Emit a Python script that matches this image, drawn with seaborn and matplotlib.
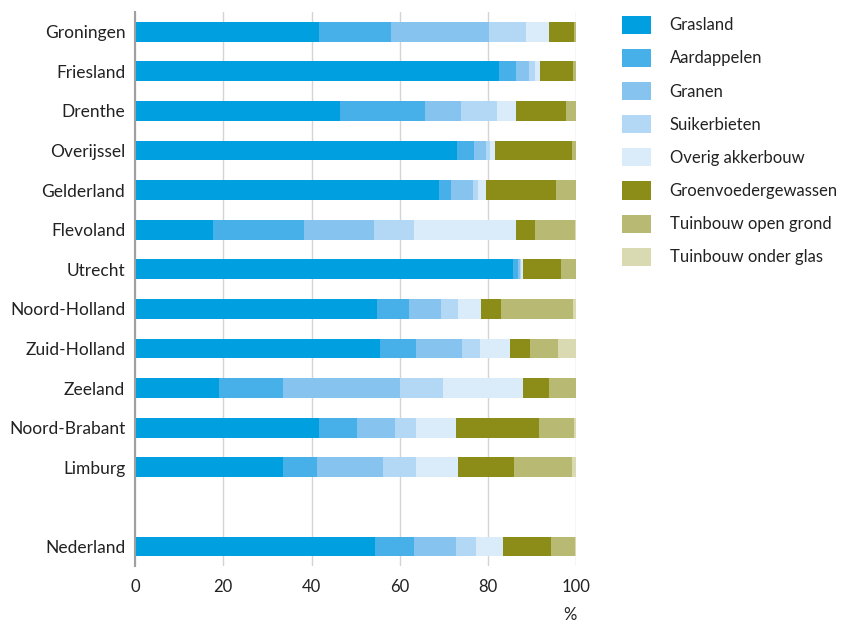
import matplotlib
matplotlib.use("Agg")
import matplotlib.pyplot as plt
from matplotlib.patches import Patch
import seaborn as sns
import pandas as pd

sns.set_style("white")
plt.rcParams['font.family'] = ['Lato', 'DejaVu Sans']

# regions, blank slot before the national total
regions = ["Groningen", "Friesland", "Drenthe", "Overijssel", "Gelderland",
           "Flevoland", "Utrecht", "Noord-Holland", "Zuid-Holland", "Zeeland",
           "Noord-Brabant", "Limburg", "Nederland"]
order = regions[:-1] + [" "] + regions[-1:]

crops = ["Grasland", "Aardappelen", "Granen", "Suikerbieten", "Overig akkerbouw",
         "Groenvoedergewassen", "Tuinbouw open grond", "Tuinbouw onder glas"]

# share of area per crop (%)
grasland   = [41.6, 82.4, 46.5, 72.9, 68.9, 17.6, 85.7, 54.8, 55.5, 19.1, 41.7, 33.6, 54.4]
aardappel  = [16.5,  4.0, 19.3,  3.9,  2.7, 20.6,  1.1,  7.3,  8.1, 14.5,  8.5,  7.6,  8.8]
granen     = [22.1,  2.9,  8.0,  2.7,  5.0, 15.9,  0.5,  7.2, 10.4, 26.4,  8.8, 14.9,  9.5]
suikerbiet = [ 8.3,  1.3,  8.3,  0.9,  1.2,  9.2,  0.2,  3.8,  4.1,  9.8,  4.6,  7.5,  4.5]
overig     = [ 5.3,  1.1,  4.2,  1.1,  1.7, 22.9,  0.3,  5.3,  6.8, 18.0,  9.1,  9.6,  6.1]
groenvoer  = [ 5.6,  7.5, 11.4, 17.4, 15.8,  4.4,  8.7,  4.4,  4.5,  6.0, 18.9, 12.7, 10.9]
open_grond = [ 0.6,  0.8,  2.3,  1.1,  4.5,  9.0,  3.5, 16.4,  6.5,  6.0,  7.9, 13.0,  5.4]
onder_glas = [ 0.0,  0.0,  0.0,  0.0,  0.2,  0.4,  0.0,  0.8,  4.1,  0.2,  0.5,  1.1,  0.4]

colors = ["#009fe0", "#48b0e8", "#86c4ef", "#b3d8f5", "#daebf9",
          "#8c8d19", "#b8b972", "#d9dab2"]

df = pd.DataFrame({"regio": regions, "Grasland": grasland, "Aardappelen": aardappel,
                   "Granen": granen, "Suikerbieten": suikerbiet,
                   "Overig akkerbouw": overig, "Groenvoedergewassen": groenvoer,
                   "Tuinbouw open grond": open_grond, "Tuinbouw onder glas": onder_glas})
cum = df[crops].cumsum(axis=1)
cum["regio"] = df["regio"]

fig = plt.figure(figsize=(8.49, 6.25), dpi=100)
ax = fig.add_axes([0.159, 0.094, 0.52, 0.887])

# stacked bars: draw cumulative totals from the outside in
for crop, col in reversed(list(zip(crops, colors))):
    sns.barplot(data=cum, x=crop, y="regio", order=order, color=col,
                width=0.5, saturation=1, linewidth=0, ax=ax)

ax.set_xlim(0, 100)
ax.set_ylim(13.5, -0.5)
ax.set_xticks([0, 20, 40, 60, 80, 100])
ax.xaxis.grid(True, color="#d4d4d4", linewidth=1)
ax.set_axisbelow(True)
for s in ["top", "right", "bottom"]:
    ax.spines[s].set_visible(False)
ax.spines["left"].set_color("#a0a0a0")
ax.spines["left"].set_linewidth(1.5)
ax.tick_params(axis="x", length=6, color="#c8c8c8", labelsize=12, pad=3, labelcolor="#222222")
ax.tick_params(axis="y", length=0, labelsize=12.5, pad=7, labelcolor="#222222")
ax.set_ylabel("")
ax.set_xlabel("%", loc="right", fontsize=12, color="#222222", labelpad=9)

handles = [Patch(facecolor=c, edgecolor="none", label=l) for c, l in zip(colors, crops)]
fig.legend(handles=handles, loc="upper left", bbox_to_anchor=(0.721, 0.991),
           frameon=False, fontsize=12, handlelength=1.75, handleheight=1.3,
           labelspacing=0.9, handletextpad=1.1, borderaxespad=0.2,
           labelcolor="#222222")

fig.savefig("out.png", dpi=100)
